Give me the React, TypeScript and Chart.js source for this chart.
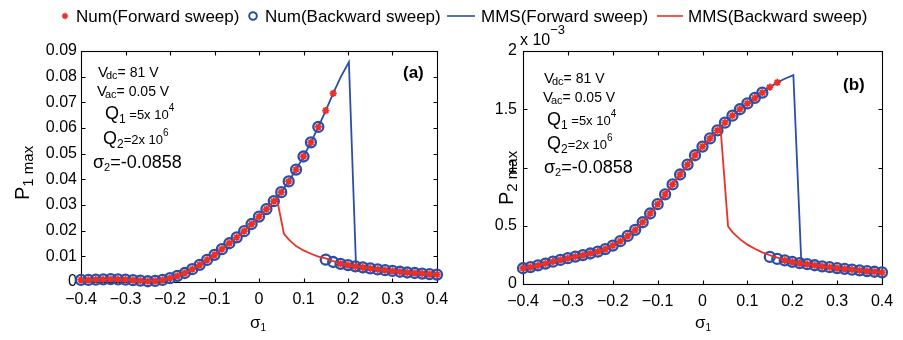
import React, { useEffect, useRef } from 'react';
import { Chart, registerables } from 'chart.js';

Chart.register(...registerables);

const FONT = '"Liberation Sans", Arial, Helvetica, sans-serif';
const BLUE = 'rgb(44, 78, 168)';
const RED = 'rgb(236, 48, 38)';

// ---------- data ----------
const sigmaUpper = [-0.4, -0.3833, -0.3667, -0.35, -0.3333, -0.3167, -0.3, -0.2833, -0.2667, -0.25, -0.2333, -0.2167, -0.2, -0.1833, -0.1667, -0.15, -0.1333, -0.1167, -0.1, -0.0833, -0.0667, -0.05, -0.0333, -0.0167, 0, 0.0167, 0.0333, 0.05, 0.0667, 0.0833, 0.1, 0.1167, 0.1333, 0.15, 0.1667];
const sigmaLower = [0.15, 0.1667, 0.1833, 0.2, 0.2167, 0.2333, 0.25, 0.2667, 0.2833, 0.3, 0.3167, 0.3333, 0.35, 0.3667, 0.3833, 0.4];

// Panel (a): P1max
const p1Upper = [0.0008, 0.0008, 0.0009, 0.0010, 0.0011, 0.0010, 0.0009, 0.0007, 0.0005, 0.0003, 0.0004, 0.0008, 0.0015, 0.0024, 0.0035, 0.0050, 0.0067, 0.0086, 0.0106, 0.0128, 0.0151, 0.0174, 0.0198, 0.0226, 0.0255, 0.0284, 0.0315, 0.0350, 0.0392, 0.0438, 0.0489, 0.0544, 0.0604, 0.0668, 0.0735];
const p1Lower = [0.0087, 0.0078, 0.0071, 0.0066, 0.0061, 0.0057, 0.0053, 0.0049, 0.0046, 0.0043, 0.0040, 0.0037, 0.0035, 0.0033, 0.0031, 0.0029];
const p1FwdJumpX = [0.1833, 0.202, 0.218];
const p1FwdJumpY = [0.0797, 0.0857, 0.0064];
const p1BwdDropX = [0.04, 0.056, 0.0667, 0.0833, 0.1, 0.1167, 0.1333, 0.15, 0.1667, 0.1833];
const p1BwdDropY = [0.0327, 0.0188, 0.0166, 0.0140, 0.0123, 0.0110, 0.0099, 0.0092, 0.0081, 0.0073];

// Panel (b): P2max (x 10^-3)
const p2Upper = [0.135, 0.145, 0.160, 0.175, 0.192, 0.207, 0.222, 0.235, 0.248, 0.262, 0.278, 0.300, 0.330, 0.368, 0.413, 0.465, 0.530, 0.605, 0.685, 0.770, 0.855, 0.940, 1.025, 1.105, 1.180, 1.250, 1.318, 1.385, 1.445, 1.500, 1.550, 1.598, 1.642, 1.690, 1.730];
const p2Lower = [0.232, 0.215, 0.202, 0.190, 0.180, 0.170, 0.161, 0.152, 0.144, 0.137, 0.130, 0.123, 0.117, 0.111, 0.105, 0.100];
const p2FwdJumpX = [0.1833, 0.2025, 0.22];
const p2FwdJumpY = [1.762, 1.793, 0.205];
const p2BwdDropX = [0.04, 0.057, 0.0667, 0.0833, 0.1, 0.1167, 0.1333, 0.15, 0.1667, 0.1833];
const p2BwdDropY = [1.350, 0.495, 0.445, 0.385, 0.338, 0.302, 0.272, 0.247, 0.226, 0.208];

// ticks
const xTickValues = [-0.4, -0.3, -0.2, -0.1, 0, 0.1, 0.2, 0.3, 0.4];
const xTickLabels = ['\u22120.4', '\u22120.3', '\u22120.2', '\u22120.1', '0', '0.1', '0.2', '0.3', '0.4'];
const y1TickValues = [0, 0.01, 0.02, 0.03, 0.04, 0.05, 0.06, 0.07, 0.08, 0.09];
const y1TickLabels = ['0', '0.01', '0.02', '0.03', '0.04', '0.05', '0.06', '0.07', '0.08', '0.09'];
const y2TickValues = [0, 0.5, 1, 1.5, 2];
const y2TickLabels = ['0', '0.5', '1', '1.5', '2'];

const legendLabels = ['Num(Forward sweep)', 'Num(Backward sweep)', 'MMS(Forward sweep)', 'MMS(Backward sweep)'];

type Part = { t: string; size: number; dy?: number; dx?: number; bold?: boolean };

function drawRich(ctx: CanvasRenderingContext2D, x: number, y: number, parts: Part[]) {
  let cx = x;
  for (const p of parts) {
    ctx.font = `${p.bold ? 'bold ' : ''}${p.size}px ${FONT}`;
    cx += p.dx || 0;
    ctx.fillText(p.t, cx, y + (p.dy || 0));
    cx += ctx.measureText(p.t).width;
  }
}

interface Panel {
  upper: number[];
  lower: number[];
  fwdJumpX: number[];
  fwdJumpY: number[];
  bwdDropX: number[];
  bwdDropY: number[];
  yMax: number;
  yTicks: number[];
  yTickLabels: string[];
  padLeft: number;
  padRight: number;
  padTop: number;
  yAxisW: number;
  xAxisH: number;
  yTickPad: number;
  sub: string;
  annX: number[];
  annY: number[];
  tag: string;
  tagX: number;
  tagY: number;
  titleX: number;
  titleY: number;
  sigmaX: number;
  exponent: boolean;
  legend: boolean;
}

const panelA: Panel = {
  upper: p1Upper, lower: p1Lower, fwdJumpX: p1FwdJumpX, fwdJumpY: p1FwdJumpY, bwdDropX: p1BwdDropX, bwdDropY: p1BwdDropY,
  yMax: 0.09, yTicks: y1TickValues, yTickLabels: y1TickLabels,
  padLeft: 0, padRight: 466, padTop: 51, yAxisW: 81, xAxisH: 58, yTickPad: 4,
  sub: '1',
  annX: [98, 97, 105, 103, 93], annY: [77, 96, 119, 144, 168],
  tag: '(a)', tagX: 403, tagY: 78,
  titleX: 29, titleY: 200, sigmaX: 250, exponent: false, legend: true,
};

const panelB: Panel = {
  upper: p2Upper, lower: p2Lower, fwdJumpX: p2FwdJumpX, fwdJumpY: p2FwdJumpY, bwdDropX: p2BwdDropX, bwdDropY: p2BwdDropY,
  yMax: 2, yTicks: y2TickValues, yTickLabels: y2TickLabels,
  padLeft: 463, padRight: 21, padTop: 51, yAxisW: 60, xAxisH: 56, yTickPad: 6,
  sub: '2',
  annX: [544, 543, 547, 547, 544], annY: [83, 102, 125, 149, 173],
  tag: '(b)', tagX: 843, tagY: 90,
  titleX: 513, titleY: 205, sigmaX: 695, exponent: true, legend: false,
};

function pts(xs: number[], ys: number[]) {
  return xs.map((x, i) => ({ x, y: ys[i] }));
}

function makeChart(canvas: HTMLCanvasElement, cfg: Panel) {
  const fwdNum = [...pts(sigmaUpper, cfg.upper), ...pts(sigmaLower.slice(2), cfg.lower.slice(2))];
  const bwdNum = [...pts(sigmaLower, cfg.lower), ...pts(sigmaUpper.slice(0, 33), cfg.upper.slice(0, 33))];
  const fwdMms = [...pts(sigmaUpper, cfg.upper), ...pts(cfg.fwdJumpX, cfg.fwdJumpY), ...pts(sigmaLower.slice(5), cfg.lower.slice(5))];
  const bwdMms = [...pts(sigmaUpper.slice(0, 27), cfg.upper.slice(0, 27)), ...pts(cfg.bwdDropX, cfg.bwdDropY), ...pts(sigmaLower.slice(3), cfg.lower.slice(3))];

  const framePlugin = {
    id: 'frame',
    beforeDatasetsDraw(chart: any) {
      const { ctx, chartArea: a, scales } = chart;
      ctx.save();
      ctx.strokeStyle = '#000';
      ctx.lineWidth = 1.1;
      const L = Math.round(a.left) + 0.5, R = Math.round(a.right) + 0.5, T = Math.round(a.top) + 0.5, B = Math.round(a.bottom) + 0.5;
      ctx.strokeRect(L, T, R - L, B - T);
      ctx.beginPath();
      const tl = 4;
      for (const v of xTickValues) {
        const px = Math.round(scales.x.getPixelForValue(v)) + 0.5;
        ctx.moveTo(px, B); ctx.lineTo(px, B - tl);
        ctx.moveTo(px, T); ctx.lineTo(px, T + tl);
      }
      for (const v of cfg.yTicks) {
        const py = Math.round(scales.y.getPixelForValue(v)) + 0.5;
        ctx.moveTo(L, py); ctx.lineTo(L + tl, py);
        ctx.moveTo(R, py); ctx.lineTo(R - tl, py);
      }
      ctx.stroke();
      ctx.restore();
    },
    afterDraw(chart: any) {
      const ctx: CanvasRenderingContext2D = chart.ctx;
      ctx.save();
      ctx.fillStyle = '#000';
      ctx.textBaseline = 'alphabetic';
      ctx.textAlign = 'left';
      const ax = cfg.annX, ay = cfg.annY;
      drawRich(ctx, ax[0], ay[0], [{ t: 'V', size: 15 }, { t: 'dc', size: 11, dy: 2, dx: -2 }, { t: '= 81 V', size: 14 }]);
      drawRich(ctx, ax[1], ay[1], [{ t: 'V', size: 15 }, { t: 'ac', size: 11, dy: 2, dx: -2 }, { t: '= 0.05 V', size: 14 }]);
      drawRich(ctx, ax[2], ay[2], [{ t: 'Q', size: 18 }, { t: '1', size: 12, dy: 4 }, { t: ' =5x 10', size: 13 }, { t: '4', size: 10, dy: -8 }]);
      drawRich(ctx, ax[3], ay[3], [{ t: 'Q', size: 18 }, { t: '2', size: 12, dy: 4 }, { t: '=2x 10', size: 13 }, { t: '6', size: 10, dy: -8 }]);
      drawRich(ctx, ax[4], ay[4], [{ t: '\u03c3', size: 18 }, { t: '2', size: 11, dy: 3 }, { t: '=-0.0858', size: 18 }]);
      drawRich(ctx, cfg.tagX, cfg.tagY, [{ t: cfg.tag, size: 17, bold: true }]);
      // x-axis title
      drawRich(ctx, cfg.sigmaX, 328, [{ t: '\u03c3', size: 17 }, { t: '1', size: 10, dy: 3 }]);
      // y-axis title (rotated)
      ctx.save();
      ctx.translate(cfg.titleX, cfg.titleY);
      ctx.rotate(-Math.PI / 2);
      drawRich(ctx, 0, 0, [{ t: 'P', size: 20 }, { t: cfg.sub + ' max', size: 15, dy: 4 }]);
      ctx.restore();
      if (cfg.exponent) {
        drawRich(ctx, 520, 45, [{ t: 'x 10', size: 16 }, { t: '\u22123', size: 13, dy: -11 }]);
      }
      if (cfg.legend) {
        const ly = 16;
        // red star
        ctx.strokeStyle = RED; ctx.lineWidth = 1.5;
        ctx.beginPath();
        const sx = 65, r = 3.2;
        ctx.moveTo(sx - r, ly); ctx.lineTo(sx + r, ly);
        ctx.moveTo(sx, ly - r); ctx.lineTo(sx, ly + r);
        ctx.moveTo(sx - r * 0.7, ly - r * 0.7); ctx.lineTo(sx + r * 0.7, ly + r * 0.7);
        ctx.moveTo(sx - r * 0.7, ly + r * 0.7); ctx.lineTo(sx + r * 0.7, ly - r * 0.7);
        ctx.stroke();
        // blue circle
        ctx.strokeStyle = BLUE; ctx.lineWidth = 2;
        ctx.beginPath(); ctx.arc(253, ly, 3.8, 0, Math.PI * 2); ctx.stroke();
        // lines
        ctx.lineWidth = 1.6;
        ctx.beginPath(); ctx.moveTo(447, ly); ctx.lineTo(475, ly); ctx.stroke();
        ctx.strokeStyle = RED;
        ctx.beginPath(); ctx.moveTo(657, ly); ctx.lineTo(683, ly); ctx.stroke();
        ctx.fillStyle = '#000';
        ctx.font = `17px ${FONT}`;
        ctx.fillText(legendLabels[0], 76, 22);
        ctx.fillText(legendLabels[1], 265, 22);
        ctx.fillText(legendLabels[2], 481, 22);
        ctx.fillText(legendLabels[3], 688, 22);
      }
      ctx.restore();
    },
  };

  return new Chart(canvas, {
    type: 'scatter',
    data: {
      datasets: [
        {
          label: legendLabels[0], data: fwdNum, showLine: false, pointStyle: 'star', pointRadius: 3.6,
          pointBorderColor: RED, pointBackgroundColor: RED, pointBorderWidth: 1.8, order: 1, clip: false,
        } as any,
        {
          label: legendLabels[1], data: bwdNum, showLine: false, pointStyle: 'circle', pointRadius: 5,
          pointBorderColor: BLUE, pointBackgroundColor: 'rgba(0,0,0,0)', pointBorderWidth: 2.3, order: 4, clip: false,
        } as any,
        {
          label: legendLabels[2], data: fwdMms, showLine: true, pointRadius: 0, borderColor: BLUE, borderWidth: 1.8,
          tension: 0, order: 3, clip: false,
        } as any,
        {
          label: legendLabels[3], data: bwdMms, showLine: true, pointRadius: 0, borderColor: RED, borderWidth: 1.8,
          tension: 0, order: 2, clip: false,
        } as any,
      ],
    },
    options: {
      animation: false,
      responsive: false,
      events: [],
      layout: { padding: { left: cfg.padLeft, right: cfg.padRight, top: cfg.padTop, bottom: 0 } },
      plugins: { legend: { display: false }, title: { display: false }, tooltip: { enabled: false } },
      scales: {
        x: {
          type: 'linear', min: -0.4, max: 0.4,
          afterBuildTicks: (s: any) => { s.ticks = xTickValues.map((v) => ({ value: v })); },
          afterFit: (s: any) => { s.height = cfg.xAxisH; },
          ticks: {
            autoSkip: false, maxRotation: 0, padding: 8, color: '#000',
            font: { size: 16, family: FONT },
            callback: (_v: any, i: number) => xTickLabels[i],
          },
          grid: { display: false, drawTicks: false },
          border: { display: false },
        },
        y: {
          type: 'linear', min: 0, max: cfg.yMax,
          afterBuildTicks: (s: any) => { s.ticks = cfg.yTicks.map((v) => ({ value: v })); },
          afterFit: (s: any) => { s.width = cfg.yAxisW; },
          ticks: {
            autoSkip: false, padding: cfg.yTickPad, color: '#000',
            font: { size: 16, family: FONT },
            callback: (_v: any, i: number) => cfg.yTickLabels[i],
          },
          grid: { display: false, drawTicks: false },
          border: { display: false },
        },
      },
    } as any,
    plugins: [framePlugin],
  });
}

export default function App() {
  const refA = useRef<HTMLCanvasElement>(null);
  const refB = useRef<HTMLCanvasElement>(null);
  useEffect(() => {
    Chart.defaults.font.family = FONT;
    const a = makeChart(refA.current!, panelA);
    const b = makeChart(refB.current!, panelB);
    return () => { a.destroy(); b.destroy(); };
  }, []);
  const st: React.CSSProperties = { position: 'absolute', left: 0, top: 0, width: 903, height: 340 };
  return (
    <div style={{ position: 'absolute', left: 0, top: 0, width: 903, height: 340, background: '#fff' }}>
      <canvas ref={refA} width={903} height={340} style={st} />
      <canvas ref={refB} width={903} height={340} style={st} />
    </div>
  );
}
